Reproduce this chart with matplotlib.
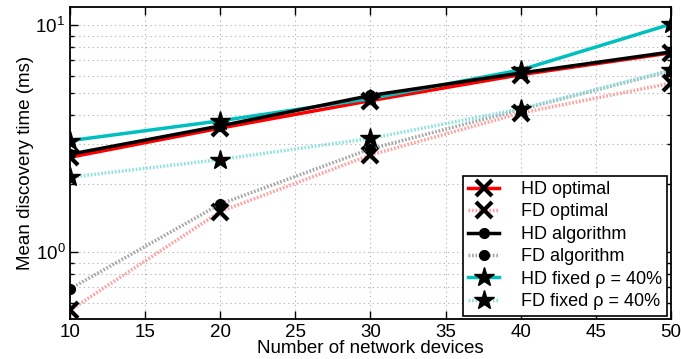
import matplotlib
matplotlib.use('Agg')
import matplotlib.pyplot as plt
from matplotlib.ticker import LogLocator, NullFormatter

plt.rcParams['font.family'] = ['Liberation Sans', 'DejaVu Sans']
plt.rcParams['mathtext.fontset'] = 'custom'
plt.rcParams['mathtext.rm'] = 'Liberation Sans'

devices = [10, 20, 30, 40, 50]
hd_optimal = [2.62, 3.52, 4.65, 6.05, 7.55]
fd_optimal = [0.555, 1.51, 2.68, 4.10, 5.55]
hd_algorithm = [2.70, 3.60, 4.90, 6.15, 7.62]
fd_algorithm = [0.69, 1.63, 2.85, 4.25, 6.30]
hd_fixed = [3.10, 3.79, 4.75, 6.35, 10.1]
fd_fixed = [2.14, 2.56, 3.17, 4.28, 6.33]

fig, ax = plt.subplots(figsize=(6.81, 3.59), dpi=100)
fig.subplots_adjust(left=0.103, right=0.985, top=0.980, bottom=0.111)

dot = (0, (0.5, 0.5))
ax.plot(devices, hd_optimal, color='red', lw=2.5, marker='x', ms=11, mew=3,
        mec='black', label='HD optimal', zorder=4)
ax.plot(devices, fd_optimal, color='#ffa0a0', lw=2.5, ls=dot, marker='x',
        ms=11, mew=3, mec='black', label='FD optimal', zorder=3)
ax.plot(devices, hd_algorithm, color='black', lw=2.5, marker='o', ms=7,
        mfc='black', mec='black', label='HD algorithm', zorder=5)
ax.plot(devices, fd_algorithm, color='#a8a8a8', lw=2.5, ls=dot, marker='o',
        ms=7, mfc='black', mec='black', label='FD algorithm', zorder=3)
ax.plot(devices, hd_fixed, color='#00bfbf', lw=2.5, marker='*', ms=15,
        mfc='black', mec='black', label='HD fixed \u03c1 = 40%', zorder=4)
ax.plot(devices, fd_fixed, color='#90e2e2', lw=2.5, ls=dot, marker='*',
        ms=15, mfc='black', mec='black', label='FD fixed \u03c1 = 40%', zorder=3)

ax.set_yscale('log')
ax.set_xlim(10, 50)
ax.set_ylim(0.507, 12.0)
ax.set_xticks(range(10, 51, 5))
ax.yaxis.set_major_locator(LogLocator(base=10))
ax.yaxis.set_minor_locator(LogLocator(base=10, subs=range(2, 10)))
ax.yaxis.set_minor_formatter(NullFormatter())

grid_style = dict(ls=(0, (1, 3)), color='#aaaaaa', lw=0.8)
ax.grid(True, which='major', **grid_style)
ax.grid(True, which='minor', axis='y', **grid_style)
ax.tick_params(which='both', direction='in', top=True, right=True, labelsize=13.5)
ax.tick_params(which='major', length=6, width=1)
ax.tick_params(which='minor', length=3, width=1)
for s in ax.spines.values():
    s.set_linewidth(1.3)

ax.set_xlabel('Number of network devices', fontsize=13.5, labelpad=-1)
ax.set_ylabel('Mean discovery time (ms)', fontsize=13.5, labelpad=1)

leg = ax.legend(loc='lower right', fontsize=13, fancybox=False, framealpha=1,
                edgecolor='black', borderaxespad=0.2, handlelength=1.7,
                labelspacing=0.3, handletextpad=1.2, borderpad=0.3)
leg.get_frame().set_linewidth(1.2)

fig.savefig('out.png', dpi=100, facecolor='white')
